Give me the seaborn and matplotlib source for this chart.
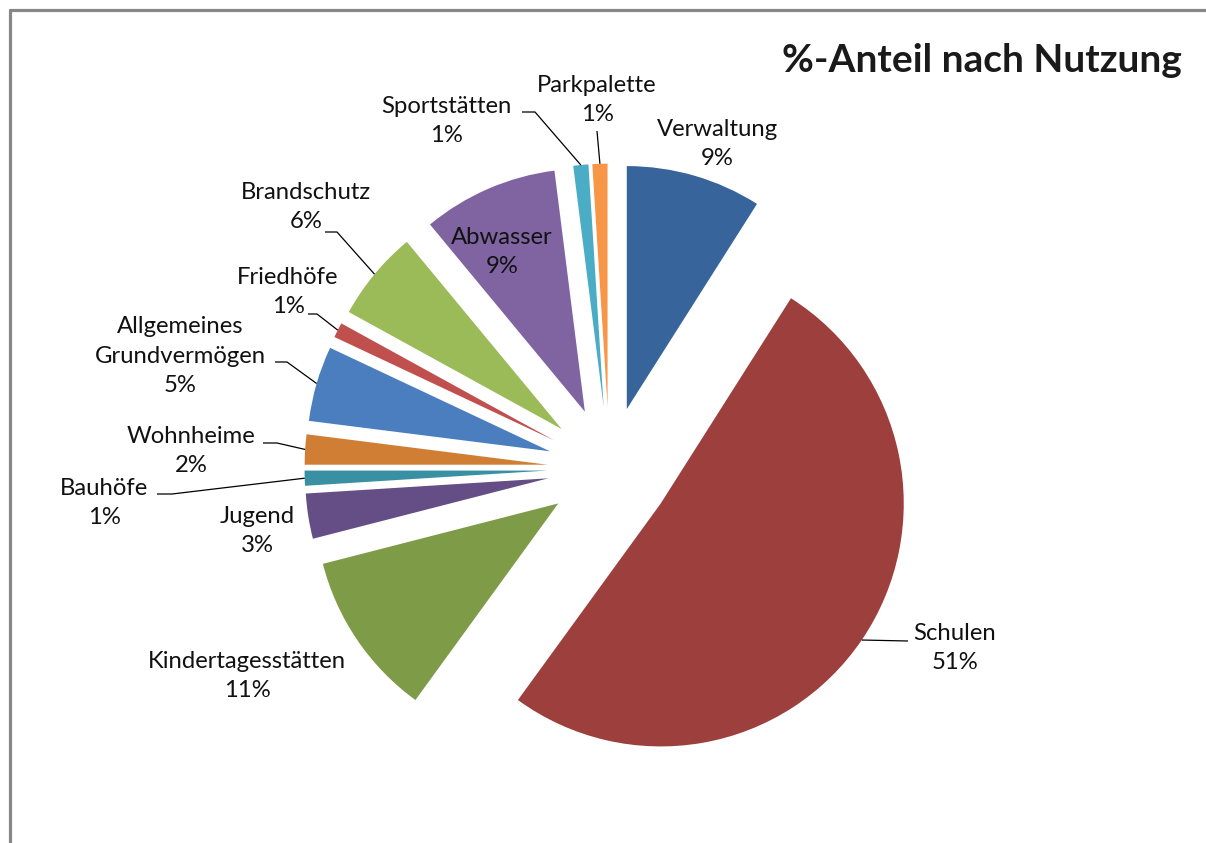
import numpy as np
import matplotlib
matplotlib.use("Agg")
import matplotlib.pyplot as plt
from matplotlib.lines import Line2D
import seaborn as sns

# ---------------- data ----------------
categories = ["Verwaltung", "Schulen", "Kindertagesstätten", "Jugend", "Bauhöfe",
              "Wohnheime", "Allgemeines\nGrundvermögen", "Friedhöfe", "Brandschutz",
              "Abwasser", "Sportstätten", "Parkpalette"]
shares = [9, 51, 11, 3, 1, 2, 5, 1, 6, 9, 1, 1]
pct_labels = ["9%", "51%", "11%", "3%", "1%", "2%", "5%", "1%", "6%", "9%", "1%", "1%"]
colors = ["#37649A", "#9C3F3D", "#7E9B48", "#654D85", "#3A90A3", "#D17E35",
          "#4A7EBE", "#C0504D", "#9BBB59", "#8064A2", "#4BACC6", "#F79646"]
title = "%-Anteil nach Nutzung"

# ---------------- layout (pixels) ----------------
W, H = 1206, 843
CX, CY, R = 609.5, 468.6, 243.0   # pie centre and radius in pixels
EXPLODE = 0.255

# label block centres (pixel coords)
label_pos = [(717, 144), (955, 648), (247, 676), (257, 531), (104, 503),
             (191, 451), (180, 356), (288, 292), (306, 207), (502, 252),
             (446, 121), (597, 100)]
# leader lines: (start, elbow) pixel coords, end is on the wedge arc
leaders = {1: ((908, 641), None), 4: ((157, 494), (172, 494)),
           5: ((263, 443), (277, 443)), 6: ((275, 362), (287, 362)),
           7: ((308, 314), (317, 314)), 8: ((325, 232), (337, 232)),
           10: ((522, 112), (535, 112)), 11: ((597, 131), None)}

sns.set_theme(style="white")
plt.rcParams["font.family"] = ["Lato", "DejaVu Sans"]

fig = plt.figure(figsize=(W / 100, H / 100), dpi=100)
fig.patch.set_facecolor("white")
ax = fig.add_axes([0, 0, 1, 1])

def to_data(p):
    return ((p[0] - CX) / R, (CY - p[1]) / R)

palette = sns.color_palette(colors)
wedges, _ = ax.pie(shares, colors=palette, startangle=90, counterclock=False,
                   explode=[EXPLODE] * len(shares), radius=1.0,
                   wedgeprops=dict(linewidth=0, antialiased=True))
ax.set_aspect("auto")
ax.set_xlim(-CX / R, (W - CX) / R)
ax.set_ylim(-(H - CY) / R, CY / R)
ax.axis("off")

# labels
for i, (cat, pct) in enumerate(zip(categories, pct_labels)):
    x, y = to_data(label_pos[i])
    ax.text(x, y, f"{cat}\n{pct}", ha="center", va="center", fontsize=17.2,
            linespacing=1.48, color="#111111")

# leader lines
for i, (start, elbow) in leaders.items():
    w = wedges[i]
    mid = np.deg2rad((w.theta1 + w.theta2) / 2)
    end = (w.center[0] + w.r * np.cos(mid), w.center[1] + w.r * np.sin(mid))
    pts = [to_data(start)]
    if elbow is not None:
        pts.append(to_data(elbow))
    pts.append(end)
    xs, ys = zip(*pts)
    ax.plot(xs, ys, color="black", lw=0.9, solid_capstyle="butt")

# title
fig.text(1182 / W, 1 - 60 / H, title, ha="right", va="center",
         fontsize=28, fontweight="bold", color="#1a1a1a")

# chart-area border (left and top visible)
b = 9.5
fig.add_artist(Line2D([b / W, b / W], [0, 1 - b / H], color="#878787", lw=2.3,
                      transform=fig.transFigure))
fig.add_artist(Line2D([b / W, 1], [1 - b / H, 1 - b / H], color="#878787", lw=2.3,
                      transform=fig.transFigure))

fig.savefig("out.png", dpi=100, facecolor="white")
